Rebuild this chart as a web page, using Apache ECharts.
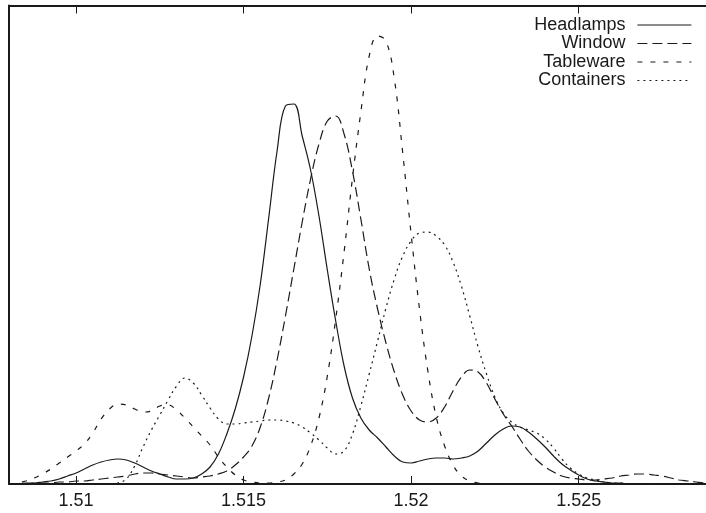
<!DOCTYPE html>
<html><head><meta charset="utf-8">
<script src="https://cdn.jsdelivr.net/npm/echarts@6/dist/echarts.min.js"></script>
<style>html,body{margin:0;padding:0;background:#fff}#c{width:706px;height:513px}</style>
</head><body><div id="c"></div>
<script>
// Sample positions along the refractive-index axis (every 0.00025 from 1.508)
var gridStart = 1.508, gridStep = 0.00025, gridCount = 84;
// Estimated density (arbitrary units) of each glass type at those positions
var headlamps = [0,0,1,1,2,3,5,8,11,15,19,22,24,25,24,21,17,13,10,7,5,5,6,10,17,30,50,75,107,148,200,266,333,378,380,348,314,268,214,163,118,86,66,54,46,37,28,22,21,23,25,26,26,25,26,28,33,41,49,55,58,57,52,45,37,28,20,14,9,5,3,2,1,1,0,0,0,0,0,0,0,0,0,0];
var windowGlass = [0,0,0,1,1,1,2,2,3,3,4,5,6,7,8,10,11,11,10,9,8,7,6,7,8,10,13,19,27,38,57,86,124,168,215,262,305,340,363,368,350,313,265,215,175,141,112,89,73,64,62,66,77,93,107,114,112,101,85,70,58,45,33,24,17,12,8,6,5,4,4,5,6,8,9,10,10,9,8,6,4,3,2,1];
var tableware = [0,1,3,6,10,15,21,27,33,40,51,65,75,80,79,75,72,73,78,79,74,66,57,48,39,27,17,9,4,2,1,1,2,4,10,20,38,66,108,165,232,306,372,428,448,443,405,331,250,175,113,67,38,19,8,3,1,0,0,0,0,0,0,0,0,0,0,0,0,0,0,0,0,0,0,0,0,0,0,0,0,0,0,0];
var containers = [0,0,0,0,0,0,0,0,0,0,0,0,0,1,5,18,37,54,69,84,98,106,101,89,76,65,60,60,61,62,63,64,64,63,61,57,51,44,36,30,33,50,78,110,143,176,205,228,243,251,252,248,239,222,198,168,137,110,87,71,62,57,54,51,45,36,25,16,10,6,4,2,1,1,0,0,0,0,0,0,0,0,0,0];

var xTicks = [1.51, 1.515, 1.52, 1.525];
var seriesNames = ['Headlamps','Window','Tableware','Containers'];

function pairs(ys){ return ys.map(function(y,i){ return [gridStart + i*gridStep, y]; }); }
var ink = '#1a1a1a';
var dashes = ['solid', [10,5], [5,8], [2,4]];
var dataSets = [pairs(headlamps), pairs(windowGlass), pairs(tableware), pairs(containers)];

var chart = echarts.init(document.getElementById('c'), null, {renderer:'canvas'});
var font = 'Liberation Sans, Arial, Helvetica, sans-serif';
chart.setOption({
  animation: false,
  backgroundColor: '#fff',
  grid: {left: 9, right: 0, top: 5.5, bottom: 29},
  legend: {
    orient: 'vertical', align: 'right', right: 14, top: 16, padding: 0,
    itemWidth: 54, itemHeight: 12, itemGap: 0.5,
    data: seriesNames,
    itemStyle: {color: 'rgba(0,0,0,0)', borderWidth: 0, opacity: 0},
    textStyle: {fontFamily: font, fontSize: 18, color: ink, padding: [0, 7, 0, 0]},
    lineStyle: {width: 1.2}
  },
  xAxis: [{
    type: 'value', min: 1.508, max: 1.5288, position: 'bottom',
    axisLine: {show: true, lineStyle: {color: ink, width: 2}},
    axisTick: {show: true, inside: true, length: 8, lineStyle: {color: ink, width: 1}, customValues: xTicks},
    axisLabel: {fontFamily: font, fontSize: 18, color: ink, margin: 8, customValues: xTicks,
      formatter: function(v){ return String(+v.toFixed(4)); }},
    splitLine: {show: false}
  },{
    type: 'value', min: 1.508, max: 1.5288, position: 'top',
    axisLine: {show: true, lineStyle: {color: ink, width: 2}},
    axisTick: {show: true, inside: true, length: 8, lineStyle: {color: ink, width: 1}, customValues: xTicks},
    axisLabel: {show: false},
    splitLine: {show: false}
  }],
  yAxis: {
    type: 'value', min: 0, max: 478.5,
    axisLine: {show: true, lineStyle: {color: ink, width: 2}},
    axisTick: {show: false}, axisLabel: {show: false}, splitLine: {show: false}
  },
  series: seriesNames.map(function(n, i){
    return {
      name: n, type: 'line', data: dataSets[i], smooth: 0.4, symbol: 'none',
      lineStyle: {color: ink, width: 1.2, type: dashes[i]},
      itemStyle: {color: ink}
    };
  })
});
</script></body></html>
